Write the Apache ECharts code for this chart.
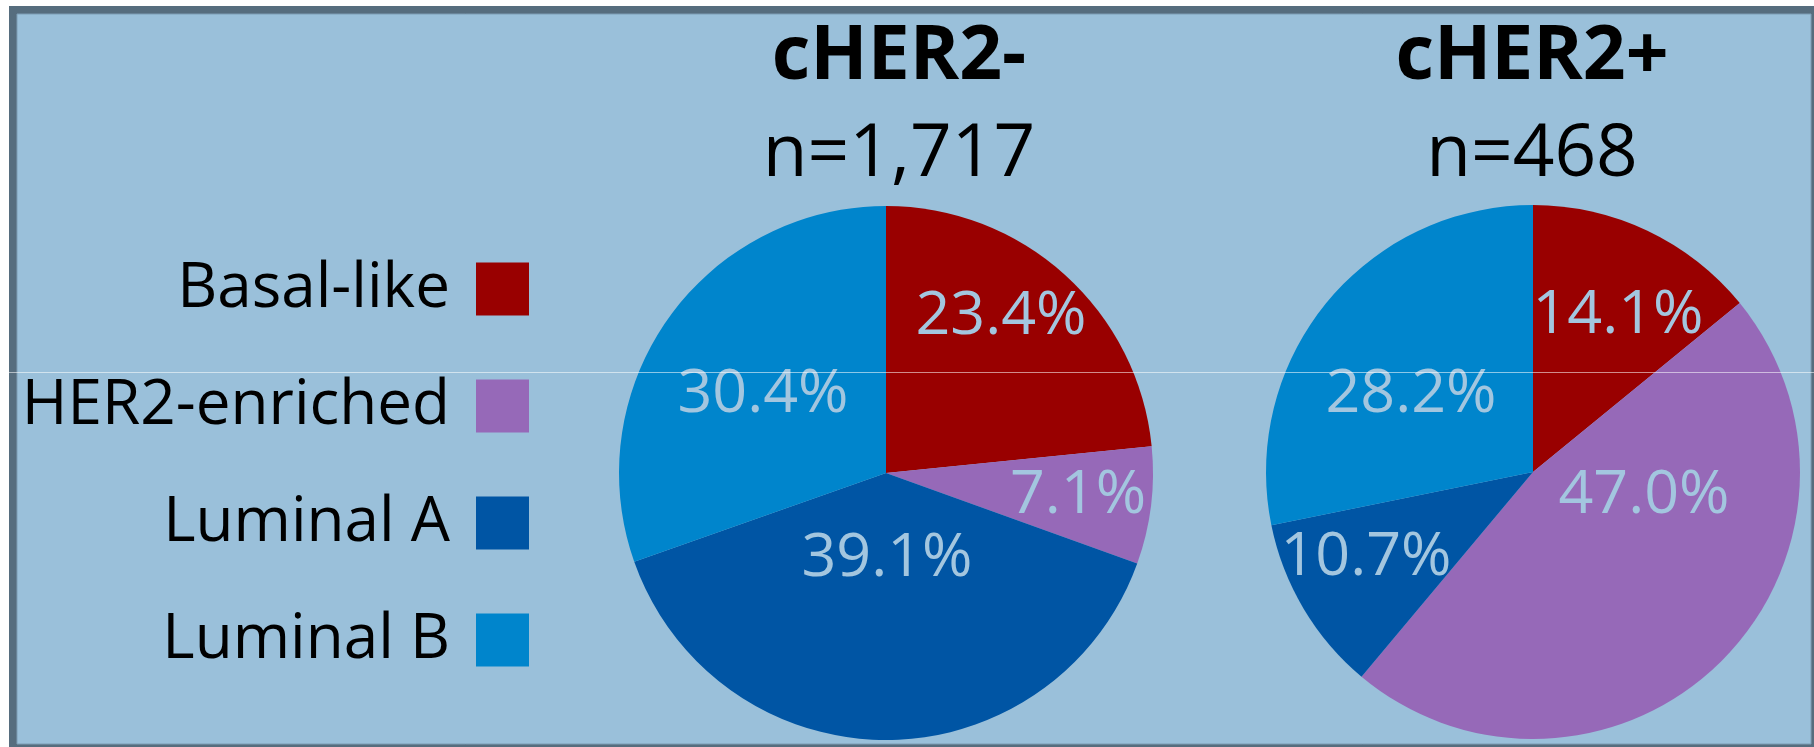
<!DOCTYPE html>
<html>
<head>
<meta charset="utf-8">
<title>Subtype distribution by cHER2 status</title>
<script src="https://cdn.jsdelivr.net/npm/echarts@6/dist/echarts.min.js"></script>
<style>
  html, body { margin: 0; padding: 0; background: #fff; }
  #chart { width: 1814px; height: 747px; }
</style>
</head>
<body>
<div id="chart"></div>
<script>
// subtypes, in slice order (clockwise from 12 o'clock)
var subtypes = ['Basal-like', 'HER2-enriched', 'Luminal A', 'Luminal B'];
var subtypeColors = ['#990000', '#9669b8', '#0055a4', '#0085cc'];

var groups = ['cHER2-', 'cHER2+'];
var groupN = ['n=1,717', 'n=468'];

// percent of each group
var pctNeg = [23.4, 7.1, 39.1, 30.4];
var pctPos = [14.1, 47.0, 10.7, 28.2];

// layout
var W = 1814, H = 747;
var pieCenters = [[886, 473], [1533, 472]];
var pieRadius = 267;
var titleX = [899, 1532];
// where each percent label sits, relative to its pie centre (px)
var labelSpots = [
  [[115, -156], [192, 23], [1, 86], [-123, -78]],
  [[85, -156], [111, 24], [-167, 86], [-122, -77]]
];

var font = 'Open Sans';

function makePie(idx, values) {
  return {
    type: 'pie',
    center: pieCenters[idx],
    radius: pieRadius,
    startAngle: 90,
    clockwise: true,
    avoidLabelOverlap: false,
    animation: false,
    emphasis: { disabled: true },
    itemStyle: { borderWidth: 0 },
    data: subtypes.map(function (s, k) {
      return { name: s, value: values[k], itemStyle: { color: subtypeColors[k] } };
    }),
    label: {
      show: true,
      position: 'inside',
      formatter: function (p) { return p.value.toFixed(1) + '%'; },
      fontFamily: font,
      fontSize: 61,
      color: '#a3c6df'
    },
    labelLine: { show: false },
    labelLayout: function (p) {
      var c = pieCenters[idx], o = labelSpots[idx][p.dataIndex];
      return { x: c[0] + o[0], y: c[1] + o[1], align: 'center', verticalAlign: 'middle' };
    }
  };
}

var chart = echarts.init(document.getElementById('chart'));
chart.setOption({
  backgroundColor: '#fff',
  animation: false,
  title: groups.map(function (g, i) {
    return {
      text: g,
      subtext: groupN[i],
      left: titleX[i],
      top: 20,
      textAlign: 'center',
      padding: 0,
      itemGap: 24,
      textStyle: { fontFamily: font, fontSize: 75, fontWeight: 'bold', color: '#000' },
      subtextStyle: { fontFamily: font, fontSize: 73, color: '#000' }
    };
  }),
  legend: {
    data: subtypes,
    orient: 'vertical',
    align: 'right',
    right: W - 529,
    top: 258,
    padding: 0,
    itemWidth: 53,
    itemHeight: 53,
    itemGap: 55,
    icon: 'rect',
    selectedMode: false,
    textStyle: { fontFamily: font, fontSize: 62, color: '#000', padding: [0, 21, 0, 0] }
  },
  graphic: [
    { type: 'rect', z: -10, silent: true, shape: { x: 9, y: 6, width: W - 9, height: H - 6 }, style: { fill: '#566d7e' } },
    { type: 'rect', z: -9, silent: true, shape: { x: 17, y: 14, width: W - 20, height: H - 17 }, style: { fill: '#9ac0da', stroke: '#7c9db4', lineWidth: 1 } },
    { type: 'rect', z: 100, silent: true, shape: { x: 9, y: 372, width: W - 9, height: 1 }, style: { fill: 'rgba(255,255,255,0.55)' } }
  ],
  series: [makePie(0, pctNeg), makePie(1, pctPos)]
});
</script>
</body>
</html>
